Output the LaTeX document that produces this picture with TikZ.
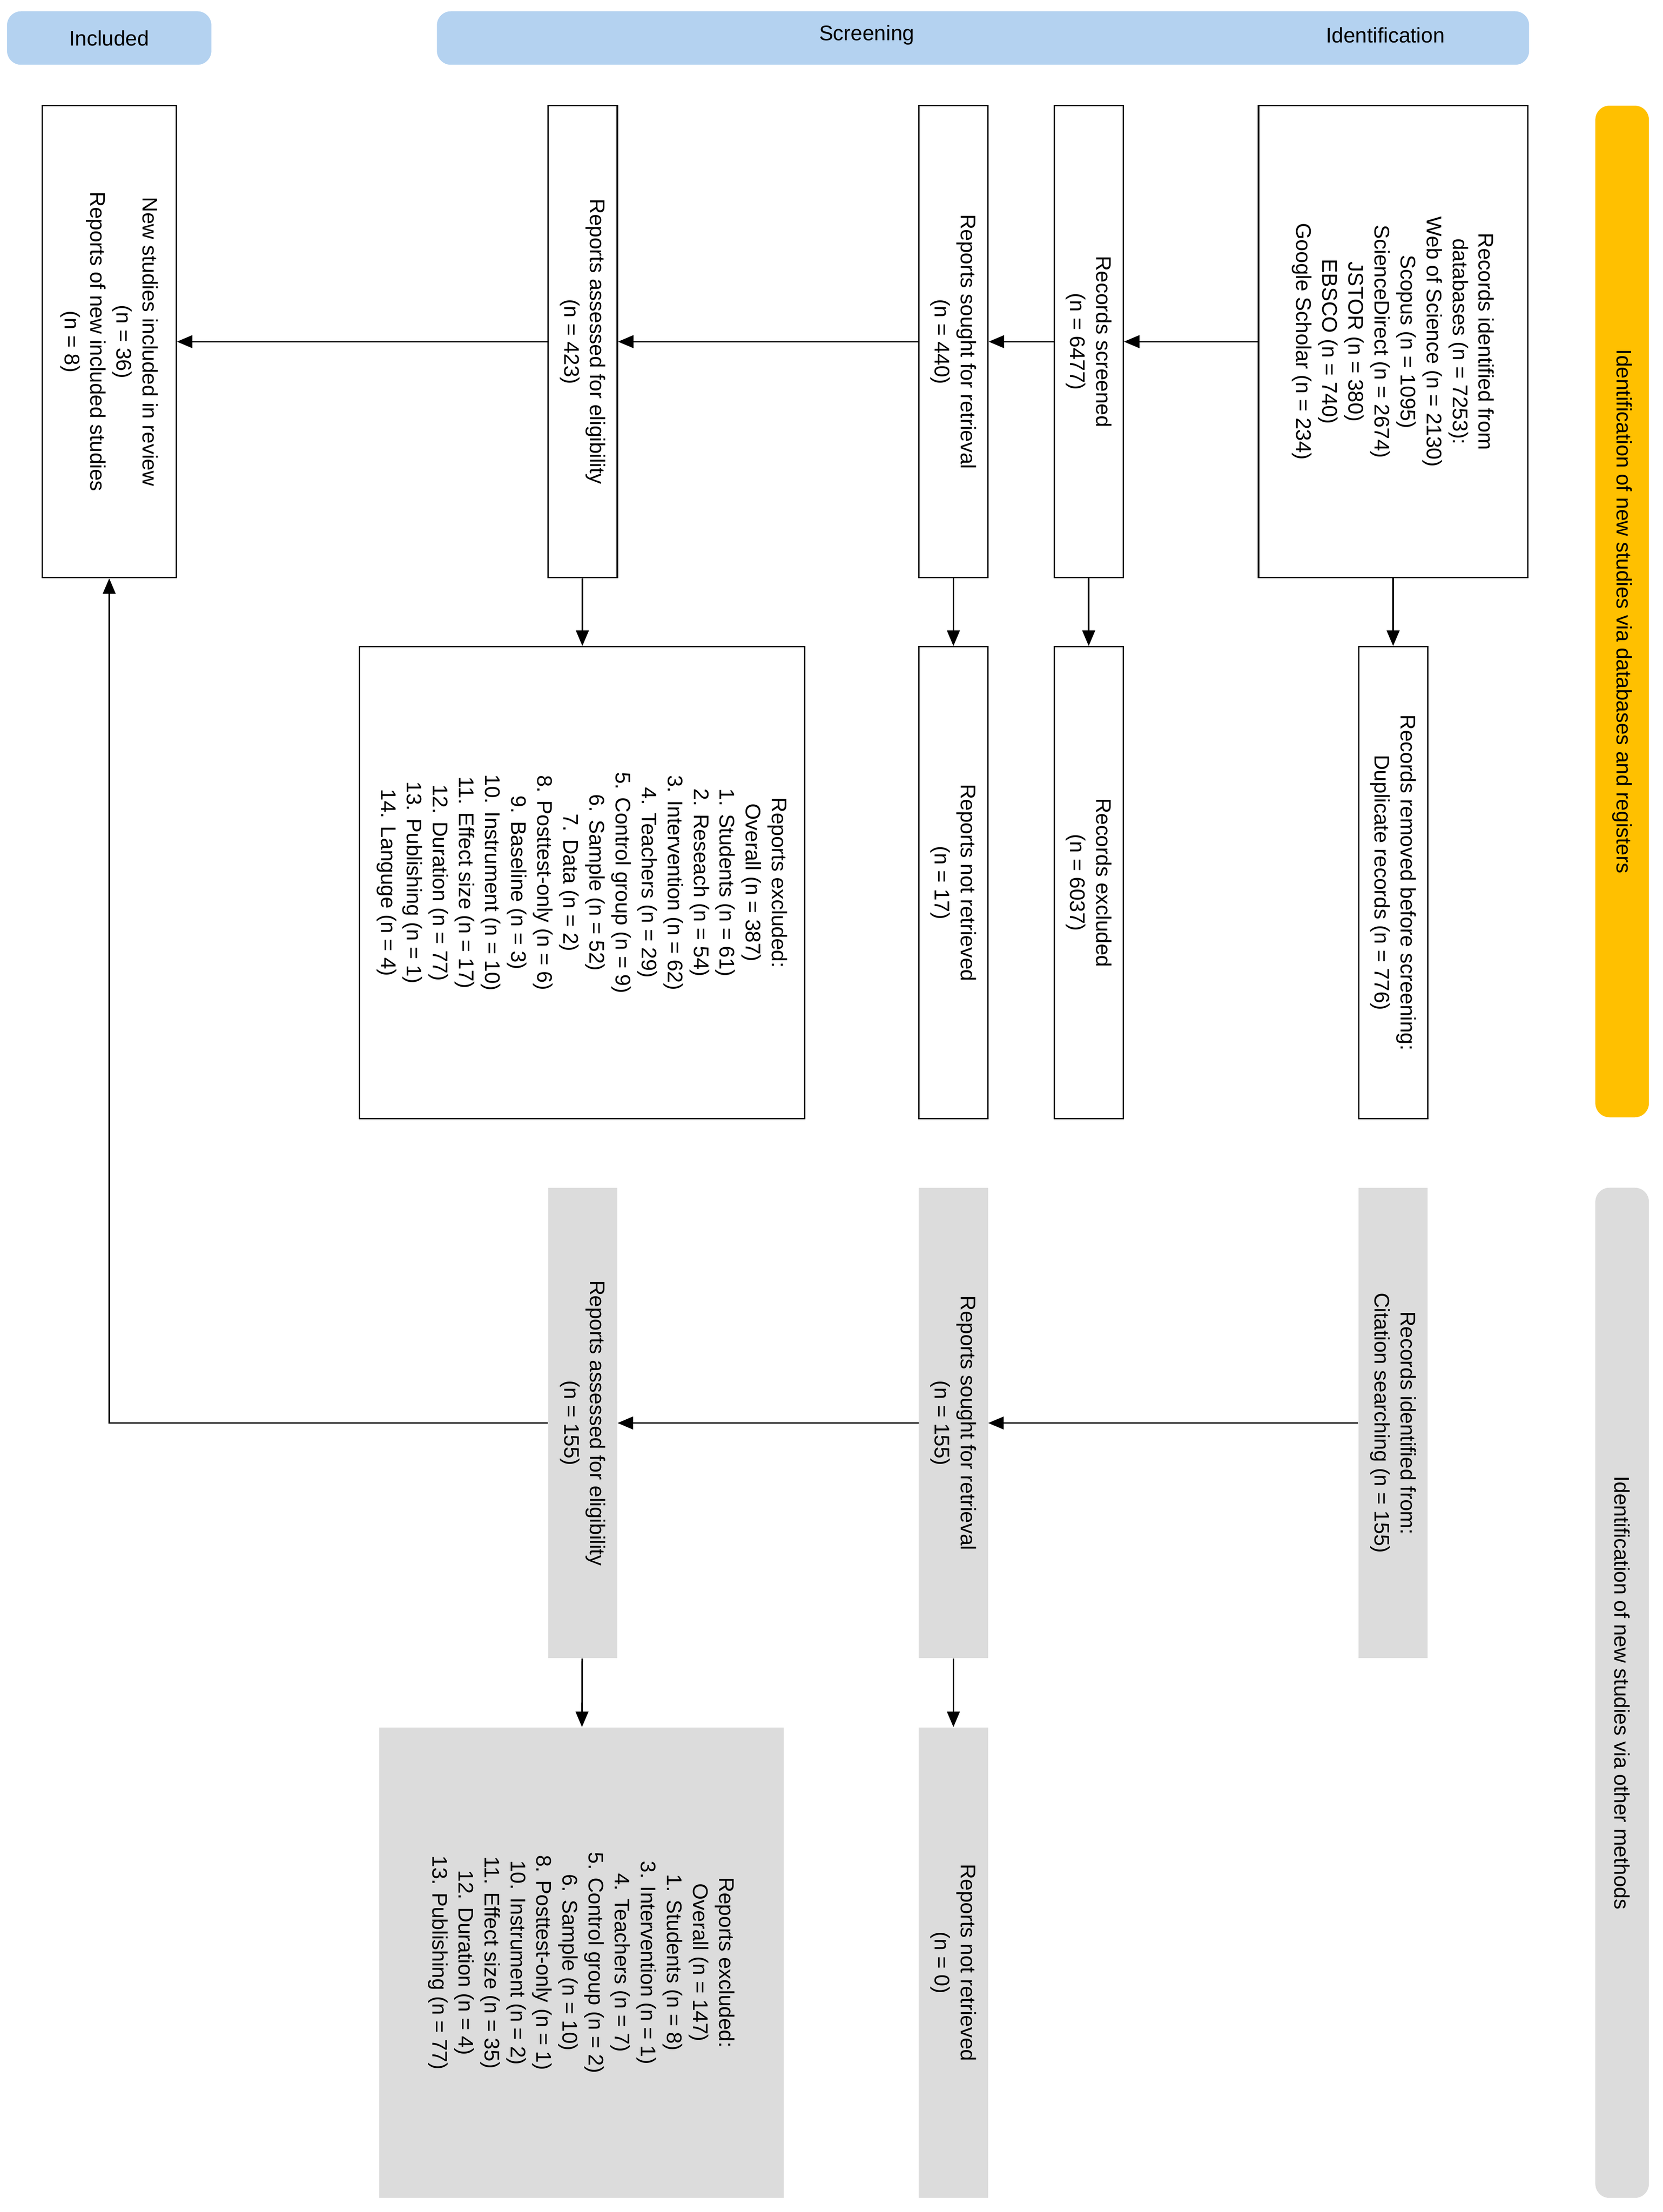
\documentclass[tikz,border=0pt]{standalone}
\usepackage{fontspec}
\setmainfont{Liberation Sans}
\usetikzlibrary{arrows.meta}
\definecolor{barblue}{RGB}{180,210,240}
\definecolor{barorange}{RGB}{255,192,0}
\definecolor{bargray}{RGB}{220,220,220}
\begin{document}
\begin{tikzpicture}[x=1pt,y=1pt,
  every node/.style={font=\fontsize{15}{18.5}\selectfont},
  box/.style={draw,line width=1pt,align=center,rotate=-90,inner sep=0pt},
  gbox/.style={fill=bargray,align=center,rotate=-90,inner sep=0pt},
  bar/.style={rounded corners=10pt,inner sep=0pt},
  arr/.style={line width=1.1pt,-{Triangle[length=11pt,width=9pt]}}]
\useasboundingbox (0,0) rectangle (1180,-1570);
% top bars
\node[bar,fill=barblue,minimum width=145,minimum height=38] (tb1) at (77.5,-27) {Included};
\node[bar,fill=barblue,minimum width=775,minimum height=38] (tb2) at (697.5,-27) {};
\node (tscr) at (615,-25) {Screening};
\node (tid) at (983,-25) {Identification};
% side bars
\node[bar,fill=barorange,rotate=-90,minimum width=718,minimum height=38] (sb1) at (1151,-434) {Identification of new studies via databases and registers};
\node[bar,fill=bargray,rotate=-90,minimum width=717,minimum height=38] (sb2) at (1151,-1201.5) {Identification of new studies via other methods};
% row 1
\node[box,minimum width=335,minimum height=191] (rec) at (988.5,-242.5) {Records identified from\\databases (n = 7253):\\Web of Science (n =  2130)\\Scopus (n = 1095)\\ScienceDirect (n = 2674)\\JSTOR (n = 380)\\EBSCO (n = 740)\\Google Scholar (n =  234)};
\node[box,minimum width=335,minimum height=49] (scr) at (772.5,-242.5) {Records screened\\(n = 6477)};
\node[box,minimum width=335,minimum height=49] (sou) at (676.5,-242.5) {Reports sought for retrieval\\(n = 440)};
\node[box,minimum width=335,minimum height=49] (ass) at (413.5,-242.5) {Reports assessed for eligibility\\(n = 423)};
\node[box,minimum width=335,minimum height=95] (inc) at (77.5,-242.5) {New studies included in review\\(n = 36)\\Reports of new included studies\\(n = 8)};
% row 2
\node[box,minimum width=335,minimum height=49] (rem) at (988.5,-626.5) {Records removed before screening:\\Duplicate records (n = 776)};
\node[box,minimum width=335,minimum height=49] (exc) at (772.5,-626.5) {Records excluded\\(n = 6037)};
\node[box,minimum width=335,minimum height=49] (nr) at (676.5,-626.5) {Reports not retrieved\\(n = 17)};
\node[box,minimum width=335,minimum height=316] (rex) at (413,-626.5) {Reports excluded:\\Overall (n =  387)\\1. Students (n =  61)\\2. Reseach (n =  54)\\3. Intervention (n =  62)\\4. Teachers (n =  29)\\5. Control group (n = 9)\\6. Sample (n =  52)\\7. Data (n =  2)\\8. Posttest-only (n =  6)\\9. Baseline (n =  3)\\10. Instrument (n =  10)\\11. Effect size (n =  17)\\12. Duration (n =  77)\\13. Publishing (n =  1)\\14. Languge (n =  4)};
% row 3
\node[gbox,minimum width=334,minimum height=49] (cit) at (988.5,-1010) {Records identified from:\\Citation searching (n = 155)};
\node[gbox,minimum width=334,minimum height=49] (sou2) at (676.5,-1010) {Reports sought for retrieval\\(n = 155)};
\node[gbox,minimum width=334,minimum height=49] (ass2) at (413.5,-1010) {Reports assessed for eligibility\\(n = 155)};
% row 4
\node[gbox,minimum width=334,minimum height=49] (nr2) at (676.5,-1393) {Reports not retrieved\\(n = 0)};
\node[gbox,minimum width=334,minimum height=287] (rex2) at (412.5,-1393) {Reports excluded:\\Overall (n =  147)\\1. Students (n = 8)\\3. Intervention (n = 1)\\4. Teachers (n =  7)\\5. Control group (n = 2)\\6. Sample (n = 10)\\8. Posttest-only (n = 1)\\10. Instrument (n = 2)\\11. Effect size (n =  35)\\12. Duration (n = 4)\\13. Publishing (n = 77)};
% arrows
\draw[arr] (rec) -- (scr);
\draw[arr] (scr) -- (sou);
\draw[arr] (sou) -- (ass);
\draw[arr] (ass) -- (inc);
\draw[arr] (rec) -- (rem);
\draw[arr] (scr) -- (exc);
\draw[arr] (sou) -- (nr);
\draw[arr] (ass) -- (rex);
\draw[arr] (cit) -- (sou2);
\draw[arr] (sou2) -- (ass2);
\draw[arr] (ass2) -| (inc);
\draw[arr] (sou2) -- (nr2);
\draw[arr] (ass2) -- (rex2);
\end{tikzpicture}
\end{document}
